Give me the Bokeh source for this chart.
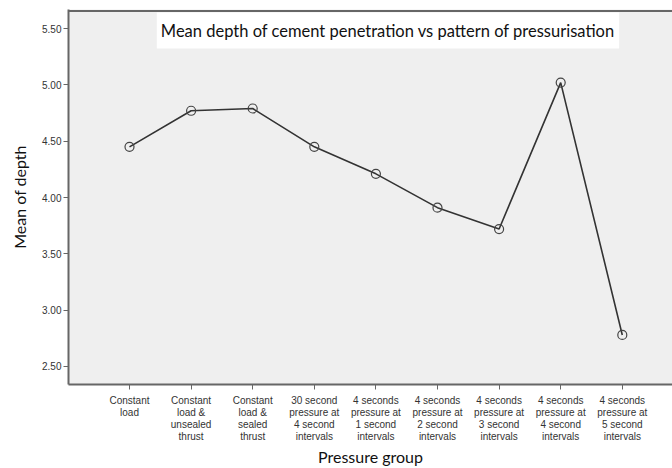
from bokeh.plotting import figure
from bokeh.models import Range1d, FixedTicker, Label, Span, NumeralTickFormatter
from bokeh.embed import file_html
from bokeh.resources import INLINE

groups = [
    "Constant\nload",
    "Constant\nload &\nunsealed\nthrust",
    "Constant\nload &\nsealed\nthrust",
    "30 second\npressure at\n4 second\nintervals",
    "4 seconds\npressure at\n1 second\nintervals",
    "4 seconds\npressure at\n2 second\nintervals",
    "4 seconds\npressure at\n3 second\nintervals",
    "4 seconds\npressure at\n4 second\nintervals",
    "4 seconds\npressure at\n5 second\nintervals",
]
positions = [1, 2, 3, 4, 5, 6, 7, 8, 9]
mean_depth = [4.45, 4.77, 4.79, 4.45, 4.21, 3.91, 3.72, 5.02, 2.78]
y_ticks = [2.5, 3.0, 3.5, 4.0, 4.5, 5.0, 5.5]
title_text = "Mean depth of cement penetration vs pattern of pressurisation"

p = figure(width=672, height=468, output_backend="svg", toolbar_location=None,
           x_range=Range1d(0.0097, 9.815), y_range=Range1d(2.340, 5.669),
           min_border_left=68, min_border_right=0, min_border_top=9, min_border_bottom=84)
p.background_fill_color = "#efefef"
p.border_fill_color = "white"
p.outline_line_color = None
p.xgrid.visible = False
p.ygrid.visible = False

xa = p.below[0]
ya = p.left[0]

p.add_layout(Span(location=5.655, dimension="width", line_color="#666666", line_width=2))

p.line(positions, mean_depth, line_color="#333333", line_width=1.6)
p.scatter(positions, mean_depth, size=9, marker="circle", fill_color=None,
          line_color="#444444", line_width=1.2)

p.add_layout(Label(x=5.196, y=5.482, text=title_text, text_align="center", text_baseline="middle",
                   text_font="Lato", text_font_size="16.5px", text_color="#111111",
                   background_fill_color="white", padding=(4, 8)))

xa.ticker = FixedTicker(ticks=positions)
xa.major_label_overrides = {pos: lab for pos, lab in zip(positions, groups)}
xa.major_label_text_font = "Liberation Sans"
xa.major_label_text_font_size = "10px"
xa.major_label_text_color = "#333333"
xa.major_label_text_line_height = 1.1
xa.major_label_standoff = 5
xa.major_tick_in = 0
xa.major_tick_out = 5
xa.minor_tick_line_color = None
xa.axis_line_color = "#666666"
xa.axis_line_width = 2
xa.major_tick_line_color = "#666666"
xa.axis_label = "Pressure group"
xa.axis_label_text_font = "Lato"
xa.axis_label_text_font_size = "16px"
xa.axis_label_text_font_style = "normal"
xa.axis_label_text_color = "#111111"
xa.axis_label_standoff = 2

ya.ticker = FixedTicker(ticks=y_ticks)
ya.formatter = NumeralTickFormatter(format="0.00")
ya.major_label_text_font = "Liberation Sans"
ya.major_label_text_font_size = "10px"
ya.major_label_text_color = "#333333"
ya.major_tick_in = 0
ya.major_tick_out = 5
ya.minor_tick_line_color = None
ya.axis_line_color = "#666666"
ya.axis_line_width = 2
ya.major_tick_line_color = "#666666"
ya.major_label_standoff = 2
ya.axis_label = "Mean of depth"
ya.axis_label_text_font = "Lato"
ya.axis_label_text_font_size = "16px"
ya.axis_label_text_font_style = "normal"
ya.axis_label_text_color = "#111111"
ya.axis_label_standoff = 10

open("out.html", "w").write(file_html(p, INLINE))
